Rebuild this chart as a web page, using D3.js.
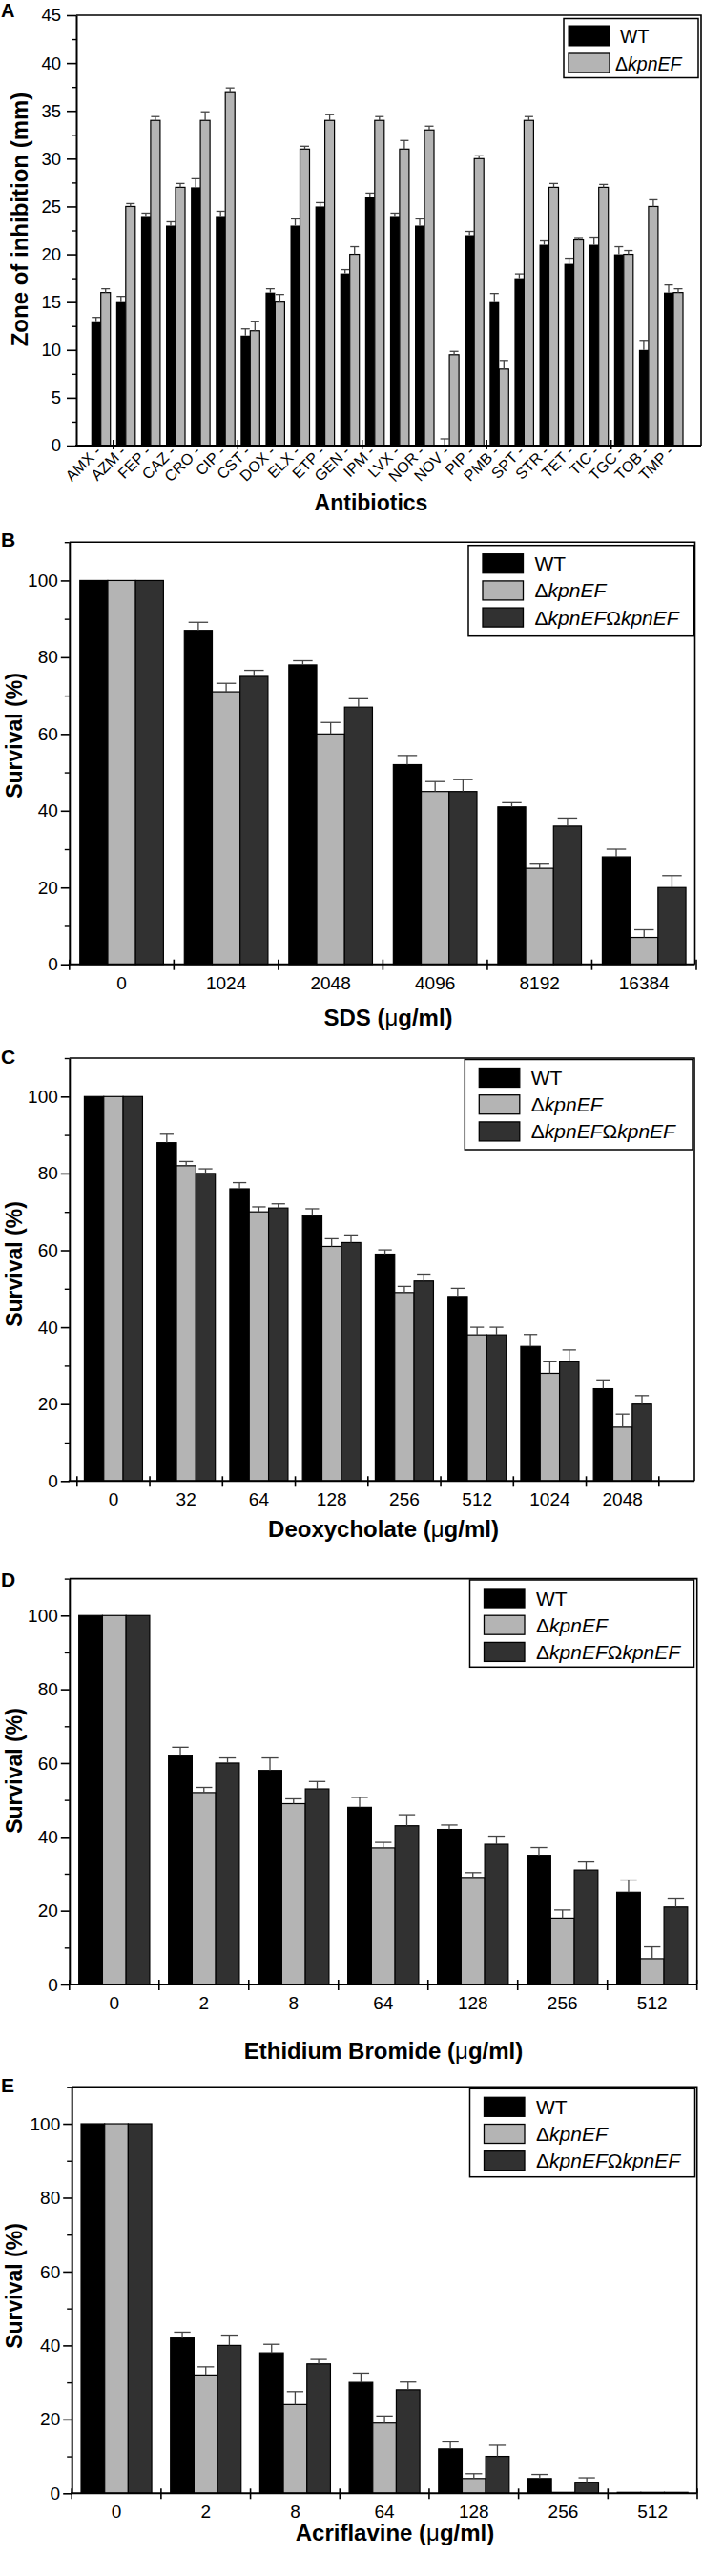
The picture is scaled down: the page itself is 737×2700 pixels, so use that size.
<!DOCTYPE html>
<html>
<head>
<meta charset="utf-8">
<script src="https://d3js.org/d3.v7.min.js"></script>
<style>
  body { margin: 0; background: #fff; }
  svg { display: block; background: #fff; font-family: "Liberation Sans", Arial, sans-serif; }
</style>
</head>
<body>
<svg id="fig" width="737" height="2700"></svg>
<script>
// ---------- data ----------
// A: zone of inhibition (mm)
const antibiotics = ["AMX","AZM","FEP","CAZ","CRO","CIP","CST","DOX","ELX","ETP","GEN","IPM",
                     "LVX","NOR","NOV","PIP","PMB","SPT","STR","TET","TIC","TGC","TOB","TMP"];
const zoneWT    = [13, 15, 24, 23, 27, 24, 11.5, 16, 23, 25, 18, 26, 24, 23, 0, 22, 15, 17.5, 21, 19, 21, 20, 10, 16];
const zoneWTErr = [0.4, 0.6, 0.3, 0.4, 0.9, 0.5, 0.7, 0.4, 0.7, 0.4, 0.4, 0.4, 0.3, 0.7, 0.7, 0.4, 0.9, 0.45, 0.4, 0.6, 0.8, 0.8, 1.0, 0.8];
const zoneKO    = [16, 25, 34, 27, 34, 37, 12, 15, 31, 34, 20, 34, 31, 33, 9.5, 30, 8, 34, 27, 21.5, 27, 20, 25, 16];
const zoneKOErr = [0.4, 0.3, 0.4, 0.4, 0.9, 0.4, 1.0, 0.8, 0.3, 0.6, 0.8, 0.4, 0.9, 0.4, 0.35, 0.3, 0.9, 0.4, 0.4, 0.25, 0.3, 0.4, 0.7, 0.4];
const zoneTicks = [0, 5, 10, 15, 20, 25, 30, 35, 40, 45];

// B: SDS
const sdsDoses   = ["0", "1024", "2048", "4096", "8192", "16384"];
const sdsWT      = [100, 87, 78, 52, 41, 28];
const sdsWTErr   = [0, 2.1, 1.1, 2.4, 1.1, 2.0];
const sdsKO      = [100, 71, 60, 45, 25, 7];
const sdsKOErr   = [0, 2.2, 3.0, 2.6, 1.1, 2.0];
const sdsComp    = [100, 75, 67, 45, 36, 20];
const sdsCompErr = [0, 1.6, 2.2, 3.1, 2.1, 3.1];

// C: deoxycholate
const docDoses   = ["0", "32", "64", "128", "256", "512", "1024", "2048"];
const docWT      = [100, 88, 76, 69, 59, 48, 35, 24];
const docWTErr   = [0, 2.2, 1.6, 1.8, 1.1, 2.1, 3.1, 2.3];
const docKO      = [100, 82, 70, 61, 49, 38, 28, 14];
const docKOErr   = [0, 1.1, 1.3, 2.0, 1.6, 2.0, 3.0, 3.4];
const docComp    = [100, 80, 71, 62, 52, 38, 31, 20];
const docCompErr = [0, 1.2, 1.1, 2.0, 1.8, 2.0, 3.1, 2.2];

// D: ethidium bromide
const ebrDoses   = ["0", "2", "8", "64", "128", "256", "512"];
const ebrWT      = [100, 62, 58, 48, 42, 35, 25];
const ebrWTErr   = [0, 2.3, 3.4, 2.7, 1.2, 2.1, 3.3];
const ebrKO      = [100, 52, 49, 37, 29, 18, 7];
const ebrKOErr   = [0, 1.4, 1.3, 1.5, 1.3, 2.2, 3.2];
const ebrComp    = [100, 60, 53, 43, 38, 31, 21];
const ebrCompErr = [0, 1.4, 2.0, 3.0, 2.2, 2.2, 2.4];

// E: acriflavine
const acrDoses   = ["0", "2", "8", "64", "128", "256", "512"];
const acrWT      = [100, 42, 38, 30, 12, 4, 0];
const acrWTErr   = [0, 1.6, 2.3, 2.5, 1.9, 1.1, 0];
const acrKO      = [100, 32, 24, 19, 4, 0, 0];
const acrKOErr   = [0, 2.2, 3.5, 1.9, 1.3, 0, 0];
const acrComp    = [100, 40, 35, 28, 10, 3, 0];
const acrCompErr = [0, 2.8, 1.2, 2.1, 3.0, 1.2, 0];

const survMajor = [0, 20, 40, 60, 80, 100];
const survMinor = [10, 30, 50, 70, 90, 110];

// ---------- drawing ----------
const svg = d3.select("#fig");
const cBlack = "#000", cLight = "#b4b4b4", cDark = "#313131", cErr = "#444";

function errBars(g, xs, tops, bases, capW) {
  xs.forEach((cx, i) => {
    if (tops[i] === bases[i]) return;
    g.append("line").attr("x1", cx).attr("x2", cx).attr("y1", bases[i]).attr("y2", tops[i])
      .attr("stroke", cErr).attr("stroke-width", 1.3);
    g.append("line").attr("x1", cx - capW / 2).attr("x2", cx + capW / 2).attr("y1", tops[i]).attr("y2", tops[i])
      .attr("stroke", cErr).attr("stroke-width", 1.3);
  });
}

function koLabel(sel, comp) {
  sel.append("tspan").text("\u0394");
  sel.append("tspan").attr("font-style", "italic").text("kpnEF");
  if (comp) {
    sel.append("tspan").text("\u03A9");
    sel.append("tspan").attr("font-style", "italic").text("kpnEF");
  }
}

// ===== Panel A =====
(function () {
  const g = svg.append("g");
  const x = d3.scaleBand().domain(antibiotics).range([92.65, 719.05]);
  const y = d3.scaleLinear().domain([0, 45]).range([467, 16]);
  const bw = 10;
  const half = x.step() / 2;

  [{v: zoneWT, e: zoneWTErr, f: cBlack, off: -bw}, {v: zoneKO, e: zoneKOErr, f: cLight, off: 0}].forEach(s => {
    g.selectAll(null).data(antibiotics).join("rect")
      .attr("x", d => x(d) + half + s.off)
      .attr("width", bw)
      .attr("y", (d, i) => y(s.v[i]))
      .attr("height", (d, i) => y(0) - y(s.v[i]))
      .attr("fill", s.f).attr("stroke", s.v === zoneWT ? "none" : "#000").attr("stroke-width", 1.2)
      .attr("display", (d, i) => s.v[i] === 0 ? "none" : null);
    errBars(g, antibiotics.map(d => x(d) + half + s.off + bw / 2),
      s.v.map((v, i) => y(v + s.e[i])), s.v.map(v => y(v)), 9);
  });

  // frame
  g.append("path").attr("d", `M80,16H735V467`).attr("fill", "none").attr("stroke", "#000").attr("stroke-width", 1.6);

  // y axis
  const ya = g.append("g").attr("transform", "translate(80,0)")
    .call(d3.axisLeft(y).tickValues(zoneTicks).tickSize(10).tickPadding(6).tickSizeOuter(0));
  ya.select(".domain").attr("stroke-width", 2);
  ya.selectAll(".tick line").attr("stroke-width", 1.6);
  ya.selectAll("text").attr("font-size", 18.5).attr("fill", "#000").attr("font-family", "Liberation Sans, Arial, sans-serif");
  const yMinor = g.append("g").attr("transform", "translate(80,0)")
    .call(d3.axisLeft(y).tickValues(d3.range(2.5, 45, 5)).tickSize(4).tickFormat("").tickSizeOuter(0));
  yMinor.select(".domain").remove();
  yMinor.selectAll(".tick line").attr("stroke-width", 1.4);

  // x axis
  g.append("line").attr("x1", 79).attr("x2", 735).attr("y1", 467).attr("y2", 467).attr("stroke", "#000").attr("stroke-width", 2);
  [1, 6, 11, 16, 21].forEach(i => {
    const tx = x(antibiotics[i]);
    g.append("line").attr("x1", tx).attr("x2", tx).attr("y1", 461).attr("y2", 471).attr("stroke", "#000").attr("stroke-width", 1.4);
  });
  g.selectAll(null).data(antibiotics).join("text")
    .attr("transform", d => `translate(${x(d) + half + 1},474) rotate(-45)`)
    .attr("text-anchor", "end").attr("font-size", 16)
    .text(d => d + " -");

  // titles
  g.append("text").attr("transform", "translate(29,230) rotate(-90)").attr("text-anchor", "middle")
    .attr("font-size", 24).attr("font-weight", "bold").text("Zone of inhibition (mm)");
  g.append("text").attr("x", 389).attr("y", 535).attr("text-anchor", "middle")
    .attr("font-size", 23).attr("font-weight", "bold").text("Antibiotics");
  g.append("text").attr("x", 1).attr("y", 18).attr("font-size", 20).attr("font-weight", "bold").text("A");

  // legend
  g.append("rect").attr("x", 591).attr("y", 19.5).attr("width", 141).attr("height", 62)
    .attr("fill", "#fff").attr("stroke", "#000").attr("stroke-width", 1.5);
  g.append("rect").attr("x", 596).attr("y", 27).attr("width", 43).attr("height", 21).attr("fill", cBlack).attr("stroke", "#000");
  g.append("rect").attr("x", 596).attr("y", 56).attr("width", 43).attr("height", 20).attr("fill", cLight).attr("stroke", "#000").attr("stroke-width", 1.3);
  g.append("text").attr("x", 650).attr("y", 44.5).attr("font-size", 19.5).text("WT");
  g.append("text").attr("x", 645).attr("y", 74).attr("font-size", 19.5).call(koLabel, false);
})();

// ===== Panels B-E =====
function drawSurvival(cfg) {
  const g = svg.append("g");
  const x = d3.scaleBand().domain(cfg.doses).range([cfg.x0, cfg.x1])
    .paddingInner(cfg.pad).paddingOuter(cfg.pad / 2);
  const y = d3.scaleLinear().domain([0, 110]).range([cfg.y0, cfg.yTop]);
  const sub = d3.scaleBand().domain([0, 1, 2]).range([0, x.bandwidth()]);
  const series = [
    {v: cfg.wt, e: cfg.wtErr, f: cBlack},
    {v: cfg.ko, e: cfg.koErr, f: cLight},
    {v: cfg.comp, e: cfg.compErr, f: cDark}
  ];
  series.forEach((s, k) => {
    g.selectAll(null).data(cfg.doses).join("rect")
      .attr("x", d => x(d) + sub(k))
      .attr("width", sub.bandwidth())
      .attr("y", (d, i) => y(s.v[i]) - (s.v[i] === 0 ? 1 : 0))
      .attr("height", (d, i) => Math.max(1, y(0) - y(s.v[i])))
      .attr("fill", s.f).attr("stroke", "#000").attr("stroke-width", 1.2);
    errBars(g, cfg.doses.map(d => x(d) + sub(k) + sub.bandwidth() / 2),
      s.v.map((v, i) => y(v + s.e[i])), s.v.map(v => y(v)), sub.bandwidth() * 0.7);
  });

  // frame
  g.append("path").attr("d", `M${cfg.ax},${cfg.yTop}H${cfg.right}V${cfg.y0}`)
    .attr("fill", "none").attr("stroke", "#000").attr("stroke-width", 1.6);

  // y axis
  const ya = g.append("g").attr("transform", `translate(${cfg.ax},0)`)
    .call(d3.axisLeft(y).tickValues(survMajor).tickSize(9).tickPadding(3).tickSizeOuter(0));
  ya.select(".domain").attr("stroke-width", 2);
  ya.selectAll(".tick line").attr("stroke-width", 1.6);
  ya.selectAll("text").attr("font-size", 19).attr("fill", "#000").attr("font-family", "Liberation Sans, Arial, sans-serif");
  const yMinor = g.append("g").attr("transform", `translate(${cfg.ax},0)`)
    .call(d3.axisLeft(y).tickValues(survMinor).tickSize(5).tickFormat("").tickSizeOuter(0));
  yMinor.select(".domain").remove();
  yMinor.selectAll(".tick line").attr("stroke-width", 1.4);

  // x axis
  g.append("line").attr("x1", cfg.ax - 1).attr("x2", cfg.right).attr("y1", cfg.y0).attr("y2", cfg.y0)
    .attr("stroke", "#000").attr("stroke-width", 2);
  d3.range(cfg.doses.length + 1).forEach(i => {
    const tx = cfg.x0 + i * x.step();
    g.append("line").attr("x1", tx).attr("x2", tx).attr("y1", cfg.y0 - 5).attr("y2", cfg.y0 + 6)
      .attr("stroke", "#000").attr("stroke-width", 1.6);
  });
  g.selectAll(null).data(cfg.doses).join("text")
    .attr("x", d => x(d) + x.bandwidth() / 2).attr("y", cfg.y0 + 26)
    .attr("text-anchor", "middle").attr("font-size", 19).text(d => d);

  // titles
  g.append("text").attr("transform", `translate(23,${cfg.yLabelY}) rotate(-90)`).attr("text-anchor", "middle")
    .attr("font-size", 23).attr("font-weight", "bold").text("Survival (%)");
  const xt = g.append("text").attr("x", cfg.xLabelX).attr("y", cfg.xLabelY).attr("text-anchor", "middle")
    .attr("font-size", 24).attr("font-weight", "bold");
  xt.append("tspan").text(cfg.agent + " (");
  xt.append("tspan").attr("font-weight", "normal").text("\u03BC");
  xt.append("tspan").text("g/ml)");
  g.append("text").attr("x", 1).attr("y", cfg.letterY).attr("font-size", 21).attr("font-weight", "bold").text(cfg.letter);

  // legend
  const L = cfg.legend;
  g.append("rect").attr("x", L.x).attr("y", L.y).attr("width", L.w).attr("height", L.h)
    .attr("fill", "#fff").attr("stroke", "#000").attr("stroke-width", 1.5);
  series.forEach((s, k) => {
    const ry = L.y + 9 + k * 28.2;
    g.append("rect").attr("x", L.x + 15).attr("y", ry).attr("width", 42.5).attr("height", 20)
      .attr("fill", s.f).attr("stroke", "#000").attr("stroke-width", 1.3);
    const t = g.append("text").attr("x", L.x + 69.5).attr("y", ry + 17.5).attr("font-size", 21);
    if (k === 0) t.text("WT"); else t.call(koLabel, k === 2);
  });
}

drawSurvival({
  letter: "B", letterY: 573, agent: "SDS",
  doses: sdsDoses, wt: sdsWT, wtErr: sdsWTErr, ko: sdsKO, koErr: sdsKOErr, comp: sdsComp, compErr: sdsCompErr,
  x0: 72.8, x1: 730, pad: 0.2, ax: 72.8, right: 728.5, y0: 1010.7, yTop: 568.2,
  yLabelY: 771, xLabelX: 407, xLabelY: 1075,
  legend: {x: 491, y: 571.7, w: 236.5, h: 95}
});
drawSurvival({
  letter: "C", letterY: 1115, agent: "Deoxycholate",
  doses: docDoses, wt: docWT, wtErr: docWTErr, ko: docKO, koErr: docKOErr, comp: docComp, compErr: docCompErr,
  x0: 80.8, x1: 690.8, pad: 0.2, ax: 72.8, right: 728, y0: 1552.3, yTop: 1109,
  yLabelY: 1325, xLabelX: 402, xLabelY: 1611,
  legend: {x: 487.3, y: 1110.5, w: 238.7, h: 94.5}
});
drawSurvival({
  letter: "D", letterY: 1663, agent: "Ethidium Bromide",
  doses: ebrDoses, wt: ebrWT, wtErr: ebrWTErr, ko: ebrKO, koErr: ebrKOErr, comp: ebrComp, compErr: ebrCompErr,
  x0: 72.8, x1: 730.7, pad: 0.21, ax: 72.8, right: 730.7, y0: 2080, yTop: 1654.6,
  yLabelY: 1856, xLabelX: 402, xLabelY: 2158,
  legend: {x: 492.5, y: 1656, w: 235, h: 91.3}
});
drawSurvival({
  letter: "E", letterY: 2193, agent: "Acriflavine",
  doses: acrDoses, wt: acrWT, wtErr: acrWTErr, ko: acrKO, koErr: acrKOErr, comp: acrComp, compErr: acrCompErr,
  x0: 75.2, x1: 731, pad: 0.21, ax: 75.2, right: 730.7, y0: 2613.3, yTop: 2187.3,
  yLabelY: 2396, xLabelX: 414, xLabelY: 2663,
  legend: {x: 492.5, y: 2189.3, w: 236, h: 92.4}
});
</script>
</body>
</html>
